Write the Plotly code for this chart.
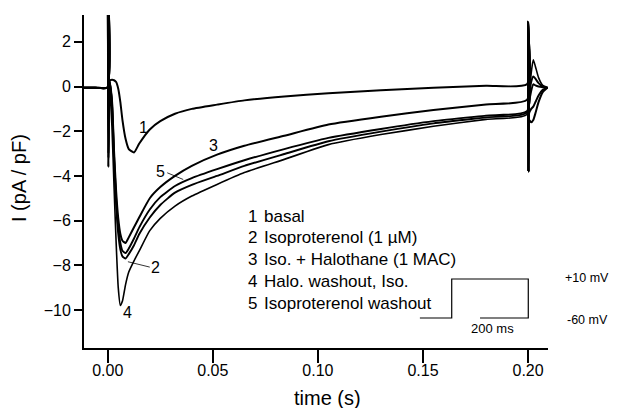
import plotly.graph_objects as go

# ---------------- data ----------------
# holding potential baseline before the step (s, pA/pF)
t_pre = [-0.0113, -0.006, -0.0002]
i_pre = [-0.05, -0.05, -0.05]

# capacitive transient at step onset
t_on = [0.0000, 0.0003]
on_spike = {
    "1": [5.0, -1.5],
    "2": [5.0, -3.6],
    "3": [5.0, -3.0],
    "4": [5.0, -3.6],
    "5": [5.0, -3.2],
}

# current during the +10 mV step
t_step = [0.0008, 0.002, 0.003, 0.004, 0.005, 0.006, 0.007, 0.0085, 0.010,
          0.0125, 0.015, 0.020, 0.025, 0.032, 0.040, 0.052, 0.065, 0.084,
          0.105, 0.13, 0.155, 0.18, 0.1995]
i_basal = [0.25, 0.3, 0.28, 0.2, -0.1, -0.7, -1.5, -2.35, -2.8, -2.95, -2.55,
           -1.92, -1.55, -1.22, -1.0, -0.81, -0.62, -0.45, -0.3, -0.17, -0.06,
           0.03, 0.1]
i_iso = [0.25, -0.8, -3.3, -5.3, -6.6, -7.3, -7.6, -7.7, -7.5, -7.1, -6.6,
         -5.86, -5.3, -4.75, -4.4, -4.0, -3.55, -3.02, -2.45, -2.02, -1.65,
         -1.38, -1.17]
i_iso_halo = [0.25, -0.6, -2.9, -4.7, -5.9, -6.6, -6.9, -7.0, -6.75, -6.3,
              -5.85, -5.0, -4.5, -4.0, -3.55, -3.05, -2.65, -2.2, -1.7, -1.35,
              -1.05, -0.8, -0.6]
i_halo_wash = [0.1, -1.8, -4.5, -7.0, -9.0, -9.8, -9.6, -8.85, -8.3, -7.8,
               -7.35, -6.45, -5.9, -5.35, -4.9, -4.38, -3.85, -3.26, -2.6,
               -2.15, -1.78, -1.47, -1.25]
i_iso_wash = [0.25, -0.7, -3.1, -5.0, -6.3, -7.0, -7.35, -7.45, -7.25, -6.8,
              -6.3, -5.5, -4.95, -4.45, -4.1, -3.7, -3.3, -2.8, -2.3, -1.9,
              -1.55, -1.3, -1.1]

# repolarisation transient and tail currents
t_tail = [0.2000, 0.2002, 0.2005, 0.2015, 0.2025, 0.2035, 0.205, 0.207, 0.2093]
tail = {
    "1": [2.9, -3.8, -1.5, -1.6, -1.5, -1.2, -0.7, -0.25, -0.05],
    "2": [2.9, -3.8, -0.6, 0.2, 0.45, 0.35, 0.15, 0.0, -0.05],
    "3": [2.9, -3.8, -1.2, -1.0, -0.9, -0.7, -0.4, -0.15, -0.05],
    "4": [2.9, -3.8, -0.6, 0.6, 1.2, 0.9, 0.4, 0.05, -0.05],
    "5": [2.9, -3.8, -0.8, -0.2, 0.1, 0.05, 0.0, -0.03, -0.05],
}

trace_ids = ["1", "2", "3", "4", "5"]
trace_names = ["basal", "Isoproterenol (1 µM)", "Iso. + Halothane (1 MAC)",
               "Halo. washout, Iso.", "Isoproterenol washout"]
step_values = {"1": i_basal, "2": i_iso, "3": i_iso_halo,
               "4": i_halo_wash, "5": i_iso_wash}
line_widths = {"1": 2.0, "2": 1.9, "3": 2.0, "4": 1.6, "5": 1.9}

# trace number labels on the curves (t, I)
curve_label_x = [0.0169, 0.0225, 0.0502, 0.0096, 0.0249]
curve_label_y = [-1.83, -8.1, -2.63, -10.12, -3.80]
# leader lines: (t0, I0, t1, I1)
leader_2 = [0.0096, -7.84, 0.0200, -8.08]
leader_5 = [0.0283, -3.86, 0.0359, -4.16]

# voltage protocol inset
protocol_ms = [-83, 0, 0, 200, 200, 74]
protocol_mv = [-60, -60, 10, 10, -60, -60]

FONT = "Liberation Sans, Arial, sans-serif"

fig = go.Figure()
for k in trace_ids:
    t = t_pre + t_on + t_step + t_tail
    i = i_pre + on_spike[k] + step_values[k] + tail[k]
    fig.add_trace(go.Scatter(x=t, y=i, mode="lines",
                             line=dict(color="black", width=line_widths[k],
                                       shape="spline", smoothing=0.5),
                             showlegend=False, hoverinfo="skip"))

# axis geometry in pixels (for paper-referenced overlays)
W, H = 619, 408
L, R, T, B = 84, 71, 15, 60
pw, ph = W - L - R, H - T - B

def px_to_paper(px, py):
    return (px - L) / pw, (H - B - py) / ph

ann = []
for lab, x, y in zip(trace_ids, curve_label_x, curve_label_y):
    ann.append(dict(x=x, y=y, text=lab, showarrow=False, xref="x", yref="y",
                    font=dict(size=16, color="black", family=FONT)))

shapes = []
for seg in (leader_2, leader_5):
    shapes.append(dict(type="line", xref="x", yref="y", x0=seg[0], y0=seg[1],
                       x1=seg[2], y1=seg[3], line=dict(color="black", width=0.8)))

# legend text block
leg_top_px = 216
leg_step_px = 21.8
for n, (k, name) in enumerate(zip(trace_ids, trace_names)):
    py = leg_top_px + n * leg_step_px
    xn, yn = px_to_paper(246, py)
    xt, _ = px_to_paper(262, py)
    ann.append(dict(x=xn, y=yn, xref="paper", yref="paper", text=k,
                    showarrow=False, xanchor="left", yanchor="middle",
                    font=dict(size=17, color="black", family=FONT)))
    ann.append(dict(x=xt, y=yn, xref="paper", yref="paper", text=name,
                    showarrow=False, xanchor="left", yanchor="middle",
                    font=dict(size=17, color="black", family=FONT)))

# voltage protocol drawn from its arrays
ms_px = 76.6 / 200.0
mv_px = 39.0 / 70.0
origin_px = (451.7, 318.0)  # (0 ms, -60 mV)
path = []
for ms, mv in zip(protocol_ms, protocol_mv):
    px = origin_px[0] + ms * ms_px
    py = origin_px[1] - (mv + 60) * mv_px
    xp, yp = px_to_paper(px, py)
    path.append(f"{xp:.4f},{yp:.4f}")
shapes.append(dict(type="path", xref="paper", yref="paper",
                   path="M" + " L".join(path),
                   line=dict(color="black", width=1.2)))
for txt, px, py, size, anchor in [("+10 mV", 563, 278, 12.5, "left"),
                                  ("-60 mV", 565, 320, 12.5, "left"),
                                  ("200 ms", 492, 328, 13, "center")]:
    xp, yp = px_to_paper(px, py)
    ann.append(dict(x=xp, y=yp, xref="paper", yref="paper", text=txt,
                    showarrow=False, xanchor=anchor, yanchor="middle",
                    font=dict(size=size, color="black", family=FONT)))

# axis titles
xp, yp = px_to_paper(327, 398)
ann.append(dict(x=xp, y=yp, xref="paper", yref="paper", text="time (s)",
                showarrow=False, xanchor="center", yanchor="middle",
                font=dict(size=20, color="black", family=FONT)))
xp, yp = px_to_paper(19, 178)
ann.append(dict(x=xp, y=yp, xref="paper", yref="paper", text="I (pA / pF)",
                showarrow=False, textangle=-90, xanchor="center",
                yanchor="middle",
                font=dict(size=20, color="black", family=FONT)))

fig.update_layout(
    width=W, height=H,
    margin=dict(l=L, r=R, t=T, b=B, pad=0),
    paper_bgcolor="white", plot_bgcolor="white",
    font=dict(family=FONT, color="black", size=16),
    annotations=ann, shapes=shapes,
    xaxis=dict(range=[-0.0113, 0.2095], showgrid=False, zeroline=False,
               showline=True, linecolor="black", linewidth=2,
               ticks="outside", ticklen=13, tickwidth=1.5, tickcolor="black",
               tickvals=[0.0, 0.05, 0.10, 0.15, 0.20], tickformat=".2f",
               ticklabelstandoff=-6,
               tickfont=dict(size=16, family=FONT, color="black")),
    yaxis=dict(range=[-11.7, 3.2], showgrid=False, zeroline=False,
               showline=True, linecolor="black", linewidth=2,
               ticks="outside", ticklen=8, tickwidth=1.5, tickcolor="black",
               tickvals=[-10, -8, -6, -4, -2, 0, 2],
               tickfont=dict(size=16, family=FONT, color="black")),
)

fig.write_html("out.html")
